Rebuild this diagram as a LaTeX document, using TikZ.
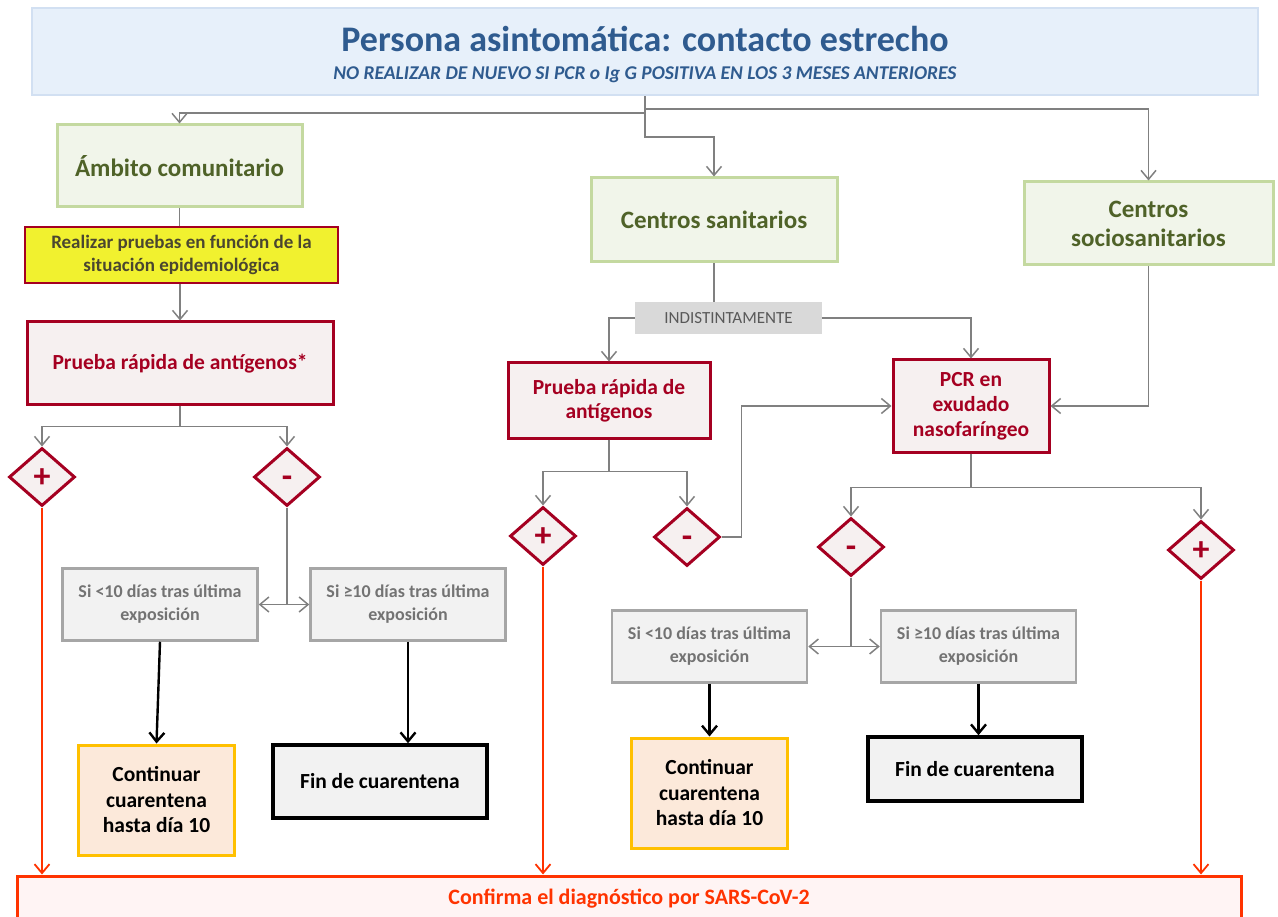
\documentclass[tikz,border=0pt]{standalone}
\usepackage{fontspec}
\setmainfont{Carlito}
\usetikzlibrary{shapes.geometric}
\usetikzlibrary{arrows.meta}
\usetikzlibrary{calc}

\definecolor{titleblue}{HTML}{2F5B8F}
\definecolor{titlefill}{HTML}{E7F0FA}
\definecolor{titleline}{HTML}{D2E0F2}
\definecolor{greenline}{HTML}{C4D9A0}
\definecolor{greenfill}{HTML}{F1F5EA}
\definecolor{greentext}{HTML}{4F6228}
\definecolor{darkred}{HTML}{A50021}
\definecolor{pinkfill}{HTML}{F6F0F0}
\definecolor{brightyellow}{HTML}{F1F12F}
\definecolor{yellowtext}{HTML}{4A4630}
\definecolor{grayline}{HTML}{A6A6A6}
\definecolor{grayfill}{HTML}{F2F2F2}
\definecolor{graytext}{HTML}{737373}
\definecolor{linkgray}{HTML}{808080}
\definecolor{indfill}{HTML}{D9D9D9}
\definecolor{indtext}{HTML}{595959}
\definecolor{goldline}{HTML}{FFC000}
\definecolor{peachfill}{HTML}{FCE9DA}
\definecolor{alertred}{HTML}{FF3300}
\definecolor{alertfill}{HTML}{FFF4F4}

\tikzset{
  greenbox/.style={draw=greenline, fill=greenfill, line width=3pt, text=greentext,
    font=\bfseries\fontsize{25}{29}\selectfont, align=center, inner sep=0pt},
  redbox/.style={draw=darkred, fill=pinkfill, line width=3pt, text=darkred,
    font=\bfseries\fontsize{21.5}{25}\selectfont, align=center, inner sep=0pt},
  signbox/.style={diamond, draw=darkred, fill=pinkfill, line width=3pt, text=darkred,
    font=\bfseries\fontsize{34}{34}\selectfont, text height=21pt, text depth=0pt,
    minimum width=66pt, minimum height=58pt, inner sep=0pt},
  graybox/.style={draw=grayline, fill=grayfill, line width=2.5pt, text=graytext,
    font=\bfseries\fontsize{18}{23}\selectfont, align=center, inner sep=0pt,
    minimum width=195pt, minimum height=72pt},
  waitbox/.style={draw=goldline, fill=peachfill, line width=3pt,
    font=\bfseries\fontsize{21.5}{25.5}\selectfont, align=center, inner sep=0pt,
    minimum width=156pt, minimum height=110pt},
  endbox/.style={draw=black, fill=grayfill, line width=3.5pt,
    font=\bfseries\fontsize{21.5}{24}\selectfont, inner sep=0pt, minimum width=214pt},
  link/.style={draw=linkgray, line width=1.5pt},
  blacklink/.style={draw=black, line width=2.4pt, ->},
  poslink/.style={draw=alertred, line width=1.8pt, ->}
}

\begin{document}
\begin{tikzpicture}[x=1pt,y=-1pt,
    >={Straight Barb[length=9pt,width=15pt]}]
  \useasboundingbox (0,0) rectangle (1278,917);

  % The header
  \node[draw=titleline, fill=titlefill, line width=2.5pt,
    minimum width=1226pt, minimum height=87pt, inner sep=0pt] (title) at (645,51.5) {};
  \node[anchor=base, text=titleblue, font=\bfseries\fontsize{36}{40}\selectfont, inner sep=0pt]
    (headline) at (645,52) {Persona asintomática: contacto estrecho};
  \node[anchor=base, text=titleblue, font=\bfseries\itshape\fontsize{19.5}{22}\selectfont, inner sep=0pt]
    (subline) at (645,80) {NO REALIZAR DE NUEVO SI PCR o Ig G POSITIVA EN LOS 3 MESES ANTERIORES};

  % The settings
  \node[greenbox, minimum width=245pt, minimum height=82pt] (amb) at (179.5,166) {Ámbito comunitario};
  \node[greenbox, minimum width=246pt, minimum height=84pt] (san) at (714,220) {Centros sanitarios};
  \node[greenbox, minimum width=249pt, minimum height=83pt] (soc) at (1148.5,223.5) {Centros\\sociosanitarios};

  % The tests
  \node[draw=darkred, fill=brightyellow, line width=2.5pt, text=yellowtext, align=center,
    font=\bfseries\fontsize{19}{23}\selectfont, inner sep=0pt,
    minimum width=313pt, minimum height=56pt] (realizar) at (181.5,255)
    {Realizar pruebas en función de la\\situación epidemiológica};
  \node[redbox, minimum width=306pt, minimum height=83pt] (prueba1) at (180,363.5) {Prueba rápida de antígenos*};
  \node[fill=indfill, text=indtext, font=\fontsize{17}{20}\selectfont, inner sep=0pt,
    minimum width=187pt, minimum height=32pt] (indist) at (728.5,318) {INDISTINTAMENTE};
  \node[redbox, font=\bfseries\fontsize{21.5}{24}\selectfont, minimum width=202pt, minimum height=75pt]
    (prueba2) at (609,400.5) {Prueba rápida de\\antígenos};
  \node[redbox, minimum width=156pt, minimum height=92pt] (pcr) at (971,406) {PCR en\\exudado\\nasofaríngeo};

  % The results
  \node[signbox] (pos1) at (42,477) {+};
  \node[signbox] (neg1) at (287,477) {-};
  \node[signbox] (pos2) at (543,536) {+};
  \node[signbox] (neg2) at (687,537) {-};
  \node[signbox] (neg3) at (851,547) {-};
  \node[signbox] (pos3) at (1201,550) {+};

  % The day checks
  \node[graybox] (si1) at (160,604.5) {Si <10 días tras última\\exposición};
  \node[graybox] (si2) at (408,604.5) {Si ≥10 días tras última\\exposición};
  \node[graybox] (si3) at (709.5,646.5) {Si <10 días tras última\\exposición};
  \node[graybox] (si4) at (978.5,646.5) {Si ≥10 días tras última\\exposición};

  % The outcomes
  \node[waitbox] (cont1) at (156.5,800) {Continuar\\cuarentena\\hasta día 10};
  \node[endbox, minimum height=73pt] (fin1) at (380,781.5) {Fin de cuarentena};
  \node[waitbox] (cont2) at (709.5,793) {Continuar\\cuarentena\\hasta día 10};
  \node[endbox, minimum height=64pt] (fin2) at (975,769) {Fin de cuarentena};
  \node[draw=alertred, fill=alertfill, line width=3pt, text=alertred,
    font=\bfseries\fontsize{22}{24}\selectfont, inner sep=0pt,
    minimum width=1224pt, minimum height=46pt] (confirm) at (629,899) {Confirma el diagnóstico por SARS-CoV-2};

  % The grey connectors
  \draw[link,->] (title.south) -- ++(0,17) -| (amb.north);
  \draw[link,->] (title.south) -- ++(0,13) -| (soc.north);
  \draw[link,->] (title.south) -- ++(0,41) -| (san.north);
  \draw[link] (amb.south) -- (amb.south |- realizar.north);
  \draw[link,->] (realizar.south -| prueba1.north) -- (prueba1.north);
  \draw[link,->] (prueba1.south) -- ++(0,20) -| (pos1.north);
  \draw[link,->] (prueba1.south) -- ++(0,20) -| (neg1.north);
  \draw[link] (neg1.south) -- (neg1.south |- si1.east);
  \draw[link,<->] (si1.east) -- (si2.west);
  \draw[link] (san.south) -- (san.south |- indist.north);
  \draw[link,->] (indist.west) -| (prueba2.north);
  \draw[link,->] (indist.east) -| (pcr.north);
  \draw[link,->] (soc.south) |- (pcr.east);
  \draw[link,->] (prueba2.south) -- ++(0,32) -| (pos2.north);
  \draw[link,->] (prueba2.south) -- ++(0,32) -| (neg2.north);
  \draw[link,->] (neg2.east) -- ++(20,0) |- (pcr.west);
  \draw[link,->] (pcr.south) -- ++(0,34) -| (neg3.north);
  \draw[link,->] (pcr.south) -- ++(0,34) -| (pos3.north);
  \draw[link] (neg3.south) -- (neg3.south |- si3.east);
  \draw[link,<->] (si3.east) -- (si4.west);

  % The black arrows
  \draw[blacklink] (si1.south) -- (cont1.north);
  \draw[blacklink] (si2.south) -- (si2.south |- fin1.north);
  \draw[blacklink] (si3.south) -- (cont2.north);
  \draw[blacklink] (si4.south) -- (si4.south |- fin2.north);

  % The positive results
  \draw[poslink] (pos1.south) -- (pos1.south |- confirm.north);
  \draw[poslink] (pos2.south) -- (pos2.south |- confirm.north);
  \draw[poslink] (pos3.south) -- (pos3.south |- confirm.north);
\end{tikzpicture}
\end{document}
